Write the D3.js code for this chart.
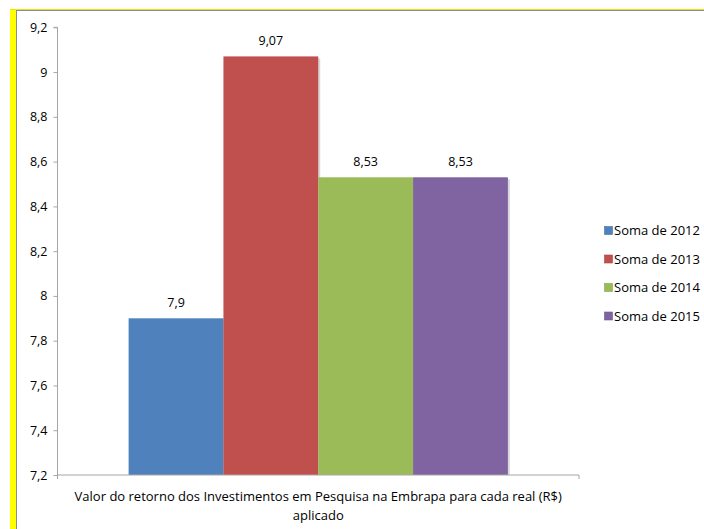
<!DOCTYPE html>
<html><head><meta charset="utf-8">
<script src="https://cdn.jsdelivr.net/npm/d3@7"></script>
<style>body{margin:0;background:#fff}svg{display:block}text{font-family:"Open Sans",Lato,sans-serif;fill:#000}</style>
</head><body><svg id="c" width="704" height="529"></svg>
<script>
const categories = ["Valor do retorno dos Investimentos em Pesquisa na Embrapa para cada real (R$)"];
const seriesNames = ["Soma de 2012","Soma de 2013","Soma de 2014","Soma de 2015"];
const seriesValues = [7.9, 9.07, 8.53, 8.53];
const valueLabels = ["7,9","9,07","8,53","8,53"];
const colors = ["#4f81bd","#c0504d","#9bbb59","#8064a2"];
const yTicks = [7.2,7.4,7.6,7.8,8,8.2,8.4,8.6,8.8,9,9.2];

(function(){
const svg = d3.select("#c");
// frame
svg.append("rect").attr("x",10).attr("y",9).attr("width",6).attr("height",520).attr("fill","#ffff00");
svg.append("line").attr("x1",10).attr("x2",704).attr("y1",9.5).attr("y2",9.5).attr("stroke","#e8e800").attr("stroke-width",1);
svg.append("line").attr("x1",16).attr("x2",704).attr("y1",10.5).attr("y2",10.5).attr("stroke","#8c8c8c").attr("stroke-width",1);
svg.append("line").attr("x1",16.5).attr("x2",16.5).attr("y1",10).attr("y2",529).attr("stroke","#8c8c8c").attr("stroke-width",1);

const pLeft=57.5, pRight=579, pTop=27.3, pBottom=475;
const y = d3.scaleLinear().domain([7.2,9.2]).range([pBottom,pTop]);
const x0 = d3.scaleBand().domain(categories).range([pLeft,pRight]).paddingInner(0).paddingOuter(0);
const fmt = d => String(d).replace(".",",");

// y axis
const ya = svg.append("g").attr("transform",`translate(${pLeft},0)`)
  .call(d3.axisLeft(y).tickValues(yTicks).tickSize(4).tickPadding(6).tickFormat(fmt));
ya.select(".domain").attr("stroke","#a6a6a6").attr("d",`M-4,${pTop}H0V${pBottom}`);
ya.selectAll(".tick line").attr("stroke","#a6a6a6");
ya.selectAll("text").style("font-size","12.5px").style("font-family","'Open Sans',sans-serif").attr("fill","#000");

// bars
const cat = categories[0];
const bw = x0.bandwidth();
const barW = bw/5.5;
const x1 = d3.scaleBand().domain(seriesNames).range([x0(cat)+0.75*barW, x0(cat)+bw-0.75*barW]).padding(0);
const g = svg.append("g");
seriesNames.forEach((s,i)=>{
  const v = seriesValues[i];
  g.append("rect").attr("x",x1(s)+2).attr("y",y(v)+2).attr("width",x1.bandwidth()).attr("height",pBottom-y(v)-2).attr("fill","#d9d9d9");
});
seriesNames.forEach((s,i)=>{
  const v = seriesValues[i];
  g.append("rect").attr("x",x1(s)).attr("y",y(v)).attr("width",x1.bandwidth()).attr("height",pBottom-y(v)).attr("fill",colors[i]);
  g.append("text").attr("x",x1(s)+x1.bandwidth()/2).attr("y",y(v)-11).attr("text-anchor","middle").style("font-size","12.5px").text(valueLabels[i]);
});

// x axis
const xa = svg.append("g").attr("transform",`translate(0,${pBottom})`);
xa.append("path").attr("d",`M${pLeft},0H${pRight}V4`).attr("stroke","#a6a6a6").attr("fill","none");
xa.append("line").attr("x1",pLeft).attr("x2",pLeft).attr("y1",0).attr("y2",4).attr("stroke","#a6a6a6");
const xl = xa.append("text").attr("x",x0(cat)+bw/2).attr("y",26).attr("text-anchor","middle").style("font-size","13px");
xl.append("tspan").attr("x",x0(cat)+bw/2).text(categories[0]);
xl.append("tspan").attr("x",x0(cat)+bw/2).attr("dy",19).text("aplicado");

// legend
const lg = svg.append("g");
seriesNames.forEach((s,i)=>{
  const yy = 230 + i*28.5;
  lg.append("rect").attr("x",604.5).attr("y",yy-3.5).attr("width",8).attr("height",8).attr("fill",colors[i]).attr("stroke",d3.color(colors[i]).darker(0.4)).attr("stroke-width",0.6);
  lg.append("text").attr("x",614).attr("y",yy+5).style("font-size","13px").text(s);
});
})();
</script></body></html>
